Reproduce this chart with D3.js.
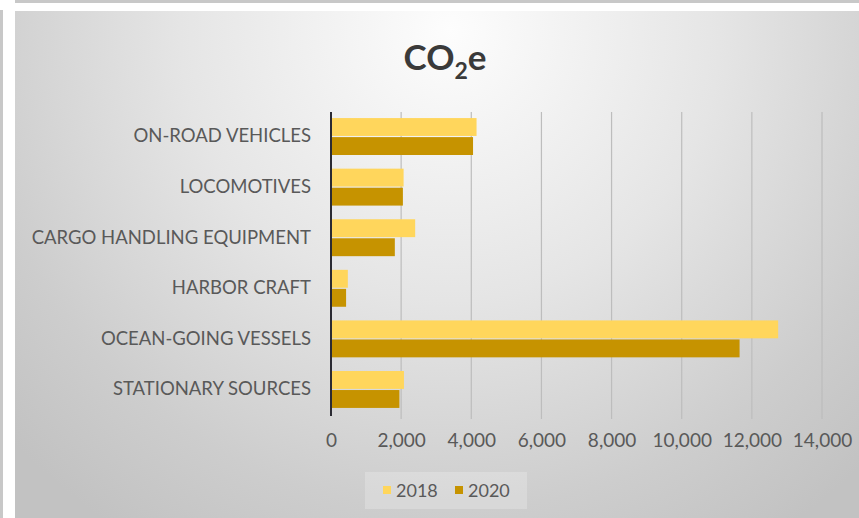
<!DOCTYPE html>
<html><head><meta charset="utf-8">
<script src="https://cdn.jsdelivr.net/npm/d3@7/dist/d3.min.js"></script>
<style>html,body{margin:0;padding:0;background:#fff;}svg{display:block;}</style>
</head><body>
<script>
const categories = ["ON-ROAD VEHICLES","LOCOMOTIVES","CARGO HANDLING EQUIPMENT","HARBOR CRAFT","OCEAN-GOING VESSELS","STATIONARY SOURCES"];
const seriesNames = ["2018","2020"];
const values2018 = [4150, 2070, 2400, 480, 12750, 2080];
const values2020 = [4050, 2050, 1820, 430, 11650, 1950];
const xTicks = [0,2000,4000,6000,8000,10000,12000,14000];
const colors = ["#FFD65C","#C69300"];

const W=859,H=518;
const svg=d3.select("body").append("svg").attr("width",W).attr("height",H);
const defs=svg.append("defs");
const rg=defs.append("radialGradient").attr("id","bg").attr("gradientUnits","userSpaceOnUse")
  .attr("cx",450).attr("cy",30).attr("r",600);
rg.append("stop").attr("offset","0").attr("stop-color","#fdfdfd");
rg.append("stop").attr("offset","0.45").attr("stop-color","#e5e5e5");
rg.append("stop").attr("offset","0.8").attr("stop-color","#cdcdcd");
rg.append("stop").attr("offset","1").attr("stop-color","#c2c2c2");

svg.append("rect").attr("x",15).attr("y",0).attr("width",W-15).attr("height",3).attr("fill","#c8c8c8");
svg.append("rect").attr("x",0).attr("y",10).attr("width",3).attr("height",H-10).attr("fill","#c8c8c8");
svg.append("rect").attr("x",15).attr("y",11).attr("width",W-15).attr("height",H-11).attr("fill","url(#bg)");

const font="Lato, 'Open Sans', sans-serif";
const x=d3.scaleLinear().domain([0,14000]).range([331,822]);
const y=d3.scaleBand().domain(categories).range([112,414]).paddingInner(0.27).paddingOuter(0.12);
const ys=d3.scaleBand().domain(seriesNames).range([0,y.bandwidth()]).paddingInner(0.06);

// gridlines
svg.append("g").selectAll("line").data(xTicks.slice(1)).join("line")
  .attr("x1",d=>x(d)).attr("x2",d=>x(d)).attr("y1",112).attr("y2",419)
  .attr("stroke","#bdbdbd").attr("stroke-width",1.2);

const data=categories.map((c,i)=>({c,v:[values2018[i],values2020[i]]}));
const g=svg.append("g");
data.forEach(d=>{
  seriesNames.forEach((s,j)=>{
    g.append("rect").attr("x",x(0)).attr("y",y(d.c)+ys(s))
      .attr("width",x(d.v[j])-x(0)).attr("height",ys.bandwidth()).attr("fill",colors[j]);
  });
});

// y axis line
svg.append("line").attr("x1",x(0)).attr("x2",x(0)).attr("y1",112).attr("y2",416)
  .attr("stroke","#2b2b33").attr("stroke-width",2);

// x tick labels
const xa=d3.axisBottom(x).tickValues(xTicks).tickFormat(d3.format(",")).tickSize(0).tickPadding(0);
const xg=svg.append("g").attr("transform","translate(0,436)").call(xa);
xg.select(".domain").remove();
xg.selectAll("text").attr("font-family",font).attr("font-size",19).attr("fill","#595959").attr("dy","0.6em");

// y labels
const ya=d3.axisLeft(y).tickSize(0).tickPadding(20);
const yg=svg.append("g").attr("transform",`translate(${x(0)},0)`).call(ya);
yg.select(".domain").remove();
yg.selectAll("text").attr("font-family",font).attr("font-size",18.5).attr("fill","#595959");

// title
const t=svg.append("text").attr("x",445).attr("y",70).attr("text-anchor","middle")
  .attr("font-family",font).attr("font-weight","bold").attr("font-size",35).attr("fill","#3a3a3a");
t.append("tspan").text("CO");
t.append("tspan").text("2").attr("font-size",23).attr("dy",9);
t.append("tspan").text("e").attr("dy",-9);

// legend
svg.append("rect").attr("x",365).attr("y",472).attr("width",162).attr("height",37).attr("fill","#ffffff").attr("opacity",0.22);
const leg=svg.append("g");
const lx=[383,455];
seriesNames.forEach((s,j)=>{
  leg.append("rect").attr("x",lx[j]).attr("y",486).attr("width",8).attr("height",8).attr("fill",colors[j]);
  leg.append("text").attr("x",lx[j]+13).attr("y",497).attr("font-family",font).attr("font-size",18).attr("fill","#595959").text(s);
});
</script>
</body></html>
